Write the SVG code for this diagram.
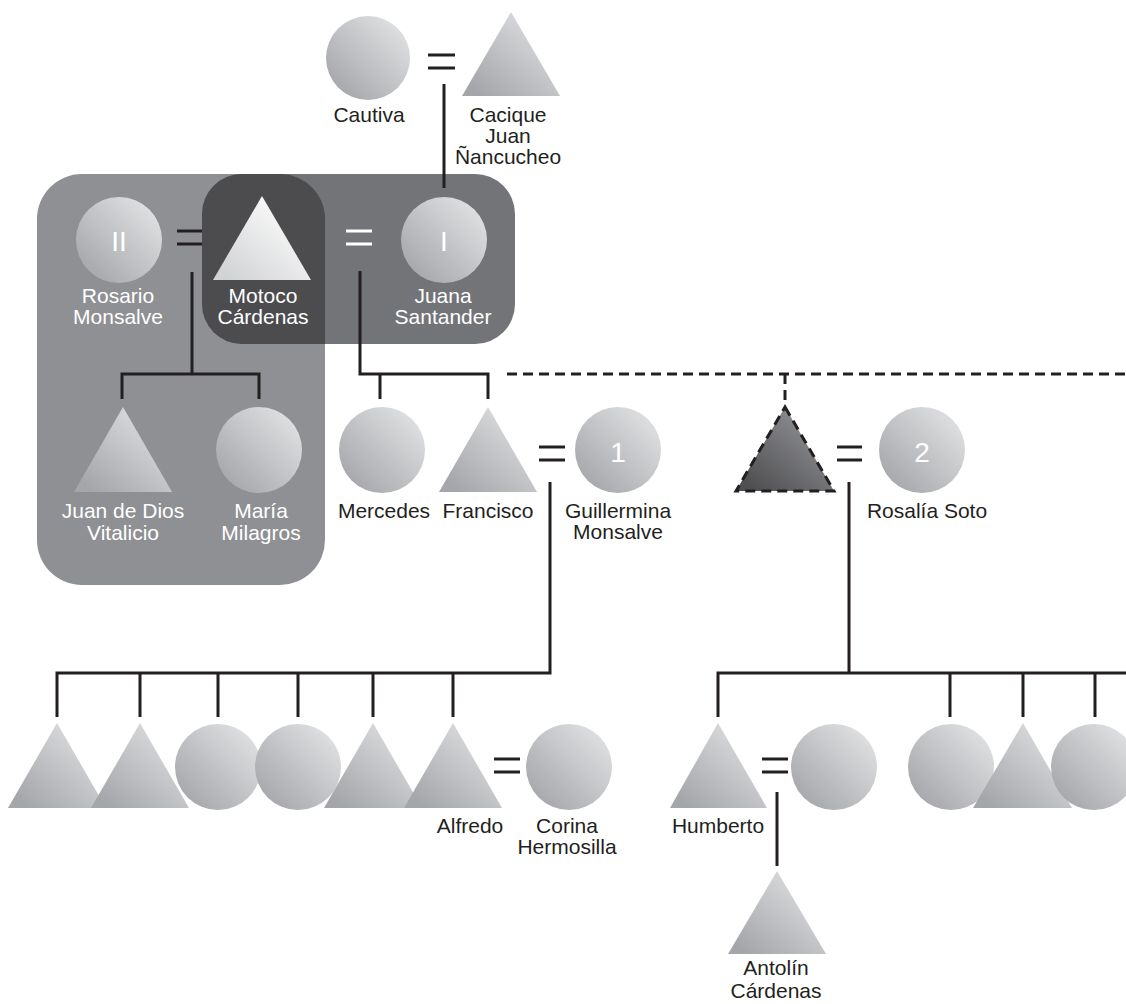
<svg xmlns="http://www.w3.org/2000/svg" width="1126" height="1004" viewBox="0 0 1126 1004">
<defs>
<linearGradient id="g" x1="0.1" y1="0.9" x2="0.9" y2="0.1">
<stop offset="0" stop-color="#a5a6a9"/>
<stop offset="1" stop-color="#e0e1e3"/>
</linearGradient>
<linearGradient id="gw" x1="0.1" y1="0.9" x2="0.9" y2="0.1">
<stop offset="0" stop-color="#d2d3d5"/>
<stop offset="1" stop-color="#ffffff"/>
</linearGradient>
<linearGradient id="gd" x1="0.1" y1="0.9" x2="0.9" y2="0.1">
<stop offset="0" stop-color="#4f4f52"/>
<stop offset="1" stop-color="#96979a"/>
</linearGradient>
</defs>
<style>
.s{fill:url(#g)}
.lbl{font-family:"Liberation Sans",Arial,sans-serif;font-size:21px;text-anchor:middle;fill:#231f20}
.w{fill:#ffffff}
.num{font-family:"Liberation Sans",Arial,sans-serif;font-size:28px;text-anchor:middle;fill:#ffffff}
.ln{stroke:#231f20;stroke-width:3;fill:none}
.eqw{stroke:#ffffff;stroke-width:3;fill:none}
.dash{stroke:#231f20;stroke-width:3;fill:none;stroke-dasharray:10 6}
.dtri{stroke:#231f20;stroke-width:3;fill:url(#gd);stroke-dasharray:10 6}
</style>
<rect width="1126" height="1004" fill="#ffffff"/>
<g id="boxes">
<rect x="37" y="174" width="288" height="411" rx="45" fill="#8f9093"/>
<rect x="202" y="174" width="313" height="170" rx="40" fill="#737477"/>
<path d="M202,214 A40,40 0 0 1 242,174 L280,174 A45,45 0 0 1 325,219 L325,344 L242,344 A40,40 0 0 1 202,304 Z" fill="#4c4c4f"/>
</g>
<g id="connectors">
<path class="ln" d="M428,55 H455 M428,68 H455"/>
<path class="ln" d="M444,84 V188"/>
<path class="ln" d="M177,231 H202 M177,244 H202"/>
<path class="eqw" d="M346,231 H372 M346,244 H372"/>
<path class="ln" d="M192,272 V374 M122,399 V374 H259 V399"/>
<path class="ln" d="M360,271 V374 H488 V399 M380,374 V399"/>
<path class="dash" d="M507,374 H1126"/>
<path class="dash" d="M785,374 V403"/>
<path class="ln" d="M539,447 H565 M539,460 H565"/>
<path class="ln" d="M837,447 H862 M837,460 H862"/>
<path class="ln" d="M550,482 V673 H57 V717 M140,673 V717 M218,673 V717 M298,673 V717 M373,673 V717 M453,673 V717"/>
<path class="ln" d="M849,482 V673 M718,717 V673 H1126 M950,673 V717 M1023,673 V717 M1095,673 V717"/>
<path class="ln" d="M494,759 H520 M494,772 H520"/>
<path class="ln" d="M762,759 H788 M762,772 H788"/>
<path class="ln" d="M777,792 V866"/>
</g>
<g id="cautiva"><circle class="s" cx="368" cy="58" r="42"/><text class="lbl" x="369" y="122">Cautiva</text></g>
<g id="cacique"><polygon class="s" points="511,12 560,96 462,96"/><text class="lbl" x="508" y="122">Cacique</text><text class="lbl" x="508" y="143">Juan</text><text class="lbl" x="508" y="164">Ñancucheo</text></g>
<g id="rosario"><circle class="s" cx="119" cy="240" r="43"/><text class="num" x="119" y="251">II</text><text class="lbl w" x="118" y="303">Rosario</text><text class="lbl w" x="118" y="324">Monsalve</text></g>
<g id="motoco"><polygon fill="url(#gw)" points="262,196 311,280 213,280"/><text class="lbl w" x="263" y="303">Motoco</text><text class="lbl w" x="263" y="324">Cárdenas</text></g>
<g id="juana"><circle class="s" cx="444" cy="240" r="43"/><text class="num" x="444" y="251">I</text><text class="lbl w" x="443" y="303">Juana</text><text class="lbl w" x="443" y="324">Santander</text></g>
<g id="juandedios"><polygon class="s" points="123,407 172,492 74,492"/><text class="lbl w" x="123" y="518">Juan de Dios</text><text class="lbl w" x="123" y="540">Vitalicio</text></g>
<g id="maria"><circle class="s" cx="259" cy="450" r="43"/><text class="lbl w" x="261" y="518">María</text><text class="lbl w" x="261" y="540">Milagros</text></g>
<g id="mercedes"><circle class="s" cx="382" cy="450" r="43"/><text class="lbl" x="384" y="518">Mercedes</text></g>
<g id="francisco"><polygon class="s" points="488,407 537,492 439,492"/><text class="lbl" x="488" y="518">Francisco</text></g>
<g id="guillermina"><circle class="s" cx="618" cy="450" r="43"/><text class="num" x="618" y="462">1</text><text class="lbl" x="618" y="518">Guillermina</text><text class="lbl" x="618" y="539">Monsalve</text></g>
<g id="unknown"><polygon class="dtri" points="785,407 834,491 736,491"/></g>
<g id="rosalia"><circle class="s" cx="922" cy="450" r="43"/><text class="num" x="922" y="462">2</text><text class="lbl" x="927" y="518">Rosalía Soto</text></g>
<g id="c1"><polygon class="s" points="57,723 106,808 8,808"/></g>
<g id="c2"><polygon class="s" points="140,723 189,808 91,808"/></g>
<g id="c3"><circle class="s" cx="218" cy="767" r="43"/></g>
<g id="c4"><circle class="s" cx="298" cy="767" r="43"/></g>
<g id="c5"><polygon class="s" points="373,723 422,808 324,808"/></g>
<g id="alfredo"><polygon class="s" points="453,723 502,808 404,808"/><text class="lbl" x="470" y="833">Alfredo</text></g>
<g id="corina"><circle class="s" cx="569" cy="767" r="43"/><text class="lbl" x="567" y="833">Corina</text><text class="lbl" x="567" y="854">Hermosilla</text></g>
<g id="humberto"><polygon class="s" points="718,723 767,808 670,808"/><text class="lbl" x="718" y="833">Humberto</text></g>
<g id="humbertowife"><circle class="s" cx="834" cy="767" r="43"/></g>
<g id="r1"><circle class="s" cx="951" cy="767" r="43"/></g>
<g id="r2"><polygon class="s" points="1023,723 1072,808 973,808"/></g>
<g id="r3"><circle class="s" cx="1094" cy="767" r="43"/></g>
<g id="antolin"><polygon class="s" points="777,871 826,954 728,954"/><text class="lbl" x="776" y="975">Antolín</text><text class="lbl" x="776" y="998">Cárdenas</text></g>
</svg>
